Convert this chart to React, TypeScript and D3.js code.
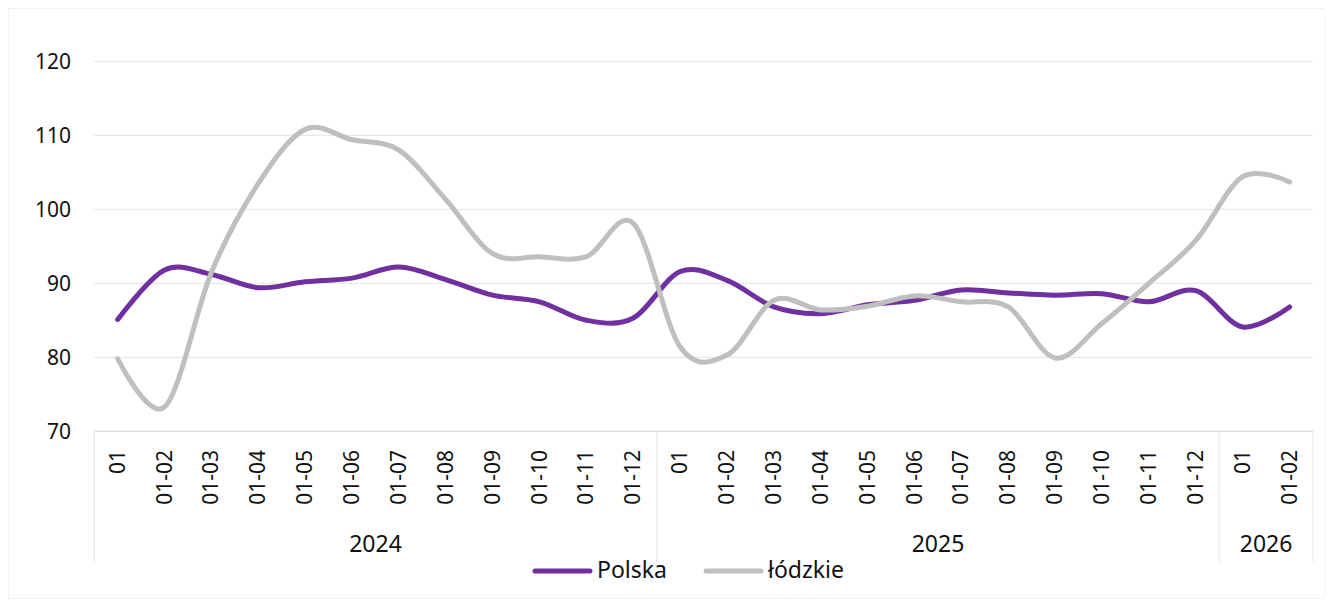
import React from "react";
import * as d3 from "d3";

const months: string[] = ["01", "01-02", "01-03", "01-04", "01-05", "01-06", "01-07", "01-08", "01-09", "01-10", "01-11", "01-12"];
const years: string[] = ["2024", "2025", "2026"];
const yearCounts: number[] = [12, 12, 2];
const categories: string[] = [...months, ...months, "01", "01-02"];

const polska: number[] = [85.1, 91.8, 91.2, 89.4, 90.2, 90.7, 92.2, 90.5, 88.4, 87.5, 85.0, 85.3, 91.6, 90.4, 86.8, 85.9, 87.1, 87.7, 89.1, 88.7, 88.4, 88.6, 87.5, 89.0, 84.1, 86.8];
const lodzkie: number[] = [79.8, 73.3, 91.5, 103.5, 110.8, 109.4, 108.0, 101.3, 94.0, 93.6, 93.6, 98.1, 81.4, 80.3, 87.7, 86.4, 86.9, 88.3, 87.5, 86.8, 79.9, 84.6, 90.0, 95.8, 104.4, 103.7];

const yTicks: number[] = [70, 80, 90, 100, 110, 120];
const seriesNames: string[] = ["Polska", "łódzkie"];
const seriesColors: string[] = ["#7030A0", "#BFBFBF"];

const W = 1333;
const H = 607;
const FONT = "'Noto Sans', 'Open Sans', sans-serif";

export default function App() {
  const x = d3.scaleBand<number>().domain(categories.map((_, i) => i)).range([94.3, 1313]).paddingInner(0).paddingOuter(0);
  const bw = x.bandwidth();
  const cx = (i: number) => (x(i) as number) + bw / 2;
  const y = d3.scaleLinear().domain([70, 120]).range([431.3, 61.3]);

  const line = d3
    .line<number>()
    .x((_, i) => cx(i))
    .y((d) => y(d))
    .curve(d3.curveCatmullRom.alpha(0));

  const axisY = y(70);
  const sepBottom = 562;

  const bounds: number[] = [0];
  yearCounts.forEach((c, k) => bounds.push(bounds[k] + c));
  const xb = (idx: number) => (idx < categories.length ? (x(idx) as number) : (x(categories.length - 1) as number) + bw);

  const series = [polska, lodzkie];

  return (
    <svg
      width={W}
      height={H}
      style={{ position: "absolute", left: 0, top: 0, background: "#ffffff" }}
      fontFamily={FONT}
    >
      <rect x={8.5} y={8.5} width={W - 17} height={H - 17} fill="#ffffff" stroke="#f2f2f2" strokeWidth={1} />
      {yTicks.map((t) =>
        t === 70 ? null : (
          <line key={"g" + t} x1={x(0) as number} x2={xb(categories.length)} y1={y(t)} y2={y(t)} stroke="#e3e3e3" strokeWidth={1} />
        )
      )}
      {yTicks.map((t) => (
        <text key={"yt" + t} x={71} y={y(t)} textAnchor="end" dominantBaseline="central" fontSize={21} fill="#111">
          {t}
        </text>
      ))}
      <line x1={x(0) as number} x2={xb(categories.length)} y1={axisY} y2={axisY} stroke="#e3e3e3" strokeWidth={1.5} />
      {bounds.map((b, k) => (
        <line key={"sep" + k} x1={xb(b)} x2={xb(b)} y1={axisY} y2={sepBottom} stroke="#e6e6e6" strokeWidth={1} />
      ))}
      {categories.map((c, i) => (
        <text
          key={"xl" + i}
          transform={`translate(${cx(i) - 1},${450}) rotate(-90)`}
          textAnchor="end"
          dominantBaseline="central"
          fontSize={21}
          fill="#111"
        >
          {c}
        </text>
      ))}
      {years.map((yr, k) => (
        <text key={"yr" + yr} x={(xb(bounds[k]) + xb(bounds[k + 1])) / 2} y={552} textAnchor="middle" fontSize={23} fill="#111">
          {yr}
        </text>
      ))}
      {series.map((s, k) => (
        <path key={"s" + k} d={line(s) || ""} fill="none" stroke={seriesColors[k]} strokeWidth={5} strokeLinecap="round" strokeLinejoin="round" />
      ))}
      {seriesNames.map((n, k) => {
        const lx = k === 0 ? 535 : 706;
        return (
          <g key={"lg" + k}>
            <line x1={lx} x2={lx + 55} y1={571} y2={571} stroke={seriesColors[k]} strokeWidth={5} strokeLinecap="round" />
            <text x={lx + 62} y={578} fontSize={23} fill="#111">
              {n}
            </text>
          </g>
        );
      })}
    </svg>
  );
}
